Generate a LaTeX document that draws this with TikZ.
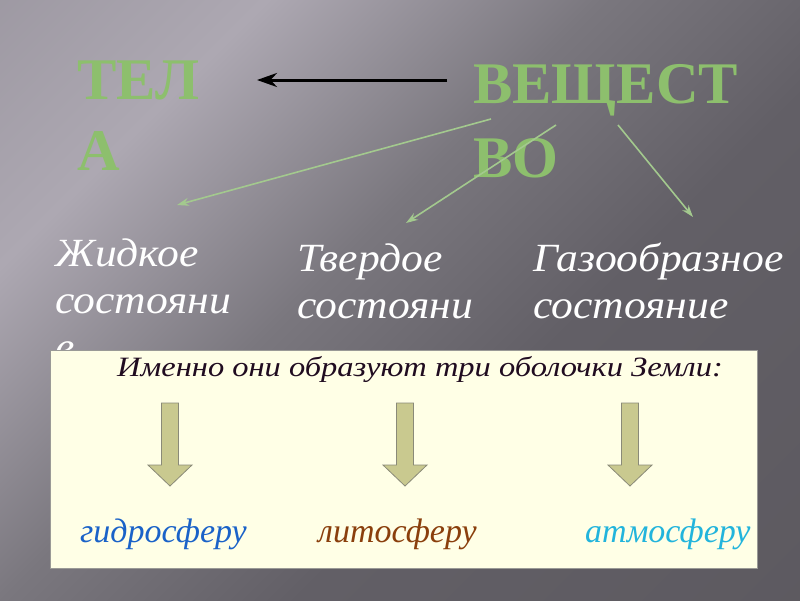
\documentclass[tikz,border=0pt]{standalone}
\usepackage{fontspec}
\setmainfont{Liberation Serif}
\newfontfamily\statefont[FakeStretch=1.09]{Liberation Serif}
\newfontfamily\panelfont[FakeStretch=1.16]{Liberation Serif}
\newfontfamily\spherefont{Liberation Serif}
\usetikzlibrary{arrows.meta}
\definecolor{bgA}{HTML}{8E8A93}
\definecolor{bgB}{HTML}{ADA8B2}
\definecolor{bgC}{HTML}{7A777E}
\definecolor{bgD}{HTML}{625F66}
\definecolor{bgE}{HTML}{5A575D}
\definecolor{titlegreen}{HTML}{8DBF6D}
\definecolor{linegreen}{HTML}{A3C98E}
\definecolor{cream}{HTML}{FFFFE6}
\definecolor{panelline}{HTML}{9A9A96}
\definecolor{introcol}{HTML}{200C20}
\definecolor{arrowfill}{HTML}{C9C98F}
\definecolor{arrowline}{HTML}{8A8A78}
\definecolor{hydrocol}{HTML}{1A62C8}
\definecolor{lithocol}{HTML}{8A3F0C}
\definecolor{atmocol}{HTML}{22B4DC}
\pgfdeclarehorizontalshading{slidebg}{100bp}{color(0bp)=(bgA); color(28bp)=(bgB); color(45bp)=(bgC); color(60bp)=(bgD); color(100bp)=(bgE)}
\begin{document}
\begin{tikzpicture}[x=1pt,y=-1pt,
  bigtitle/.style={text=titlegreen, align=left, inner sep=0pt, anchor=base west},
  statelabel/.style={font=\statefont\itshape\fontsize{40}{47}\selectfont, text=white, align=left, inner sep=0pt, anchor=base west},
  spherelabel/.style={font=\spherefont\itshape\fontsize{34}{40}\selectfont, inner sep=0pt, anchor=base west},
  blackarrow/.style={draw=black, line width=3pt, -{Stealth[length=20pt,width=14pt]}},
  greenarrow/.style={draw=linegreen, line width=1.6pt, -{Stealth[length=12pt,width=8pt]}},
  blockarrow/.pic={\filldraw[fill=arrowfill, draw=arrowline, line width=0.8pt]
     (-8.5,0) -- (8.5,0) -- (8.5,62) -- (22,62) -- (0,83) -- (-22,62) -- (-8.5,62) -- cycle;}
]
\useasboundingbox (0,0) rectangle (800,600);
\shade[shading=slidebg, shading angle=-45] (0,0) rectangle (800,600);

% multi-line nodes: base anchor = baseline of the last line
\node[bigtitle, font=\fontsize{59}{71}\selectfont\bfseries] (tela) at (77,170) {ТЕЛ\\А};
\node[bigtitle, font=\fontsize{59}{74}\selectfont\bfseries] (veshch) at (473,177) {ВЕЩЕСТ\\ВО};

\node[statelabel] (liquid) at (55,360) {Жидкое\\состояни\\е};
\node[statelabel] (solid) at (297,318) {Твердое\\состояни};
\node[statelabel] (gas) at (533,318) {Газообразное\\состояние};

\coordinate (bstart) at (447,80);
\coordinate (bend) at (257,80);
\draw[blackarrow] (bstart) -- (bend);

\coordinate (g1s) at (491,119);
\coordinate (g1e) at (177,205);
\coordinate (g2s) at (556,125);
\coordinate (g2e) at (406,223);
\coordinate (g3s) at (618,125);
\coordinate (g3e) at (693,217);
\draw[greenarrow] (g1s) -- (g1e);
\draw[greenarrow] (g2s) -- (g2e);
\draw[greenarrow] (g3s) -- (g3e);

\node[draw=panelline, fill=cream, line width=0.8pt, minimum width=707pt, minimum height=218pt, anchor=north west, inner sep=0pt] (panel) at (50,350) {};
\node[font=\panelfont\itshape\fontsize{28}{32}\selectfont, text=introcol, inner sep=0pt, anchor=base west] (intro) at (117,376) {Именно они образуют три оболочки Земли:};

\pic at (170,403) {blockarrow};
\pic at (405,403) {blockarrow};
\pic at (630,403) {blockarrow};

\node[spherelabel, text=hydrocol] (hydro) at (80,542) {гидросферу};
\node[spherelabel, text=lithocol] (litho) at (318,542) {литосферу};
\node[spherelabel, text=atmocol] (atmo) at (585,542) {атмосферу};
\end{tikzpicture}
\end{document}
